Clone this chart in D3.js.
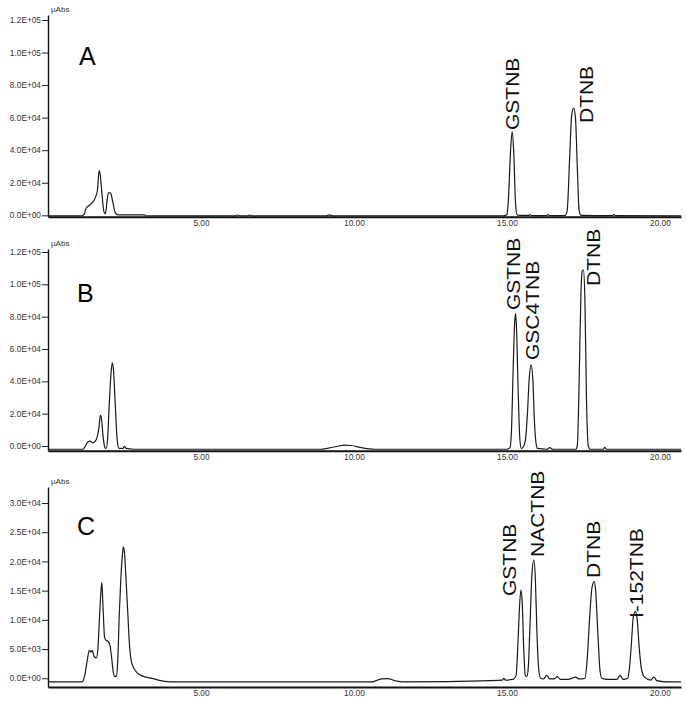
<!DOCTYPE html>
<html><head><meta charset="utf-8">
<script src="https://cdn.jsdelivr.net/npm/d3@7"></script>
<style>body{margin:0;background:#fff}svg{display:block}</style>
</head><body>
<script>
// ---------- DATA ----------
const panelNames = ["A", "B", "C"];
const xTicks = [5, 10, 15, 20];
const xTickLabels = ["5.00", "10.00", "15.00", "20.00"];
const yTicksAB = [0, 20000, 40000, 60000, 80000, 100000, 120000];
const yTickLabelsAB = ["0.0E+00", "2.0E+04", "4.0E+04", "6.0E+04", "8.0E+04", "1.0E+05", "1.2E+05"];
const yTicksC = [0, 5000, 10000, 15000, 20000, 25000, 30000];
const yTickLabelsC = ["0.0E+00", "5.0E+03", "1.0E+04", "1.5E+04", "2.0E+04", "2.5E+04", "3.0E+04"];
const yUnit = "µAbs";

const timesA = [0,1.1,1.18,1.25,1.35,1.45,1.55,1.62,1.67,1.70,1.76,1.83,1.88,1.93,1.98,2.05,2.12,2.2,2.3,3.15,3.2,6.1,6.2,6.3,6.5,6.6,6.7,9.1,9.2,9.3,14.9,15.0,15.05,15.12,15.17,15.22,15.28,15.33,15.4,15.7,15.75,15.8,16.3,16.35,16.4,16.9,16.97,17.05,17.12,17.18,17.24,17.3,17.36,17.42,18.45,18.5,18.55,20.69];
const valuesA = [-400,-400,500,4500,6000,8000,11000,16000,27500,26000,14000,2000,1000,9000,14000,13500,8000,1500,300,300,-400,-400,200,-400,-400,200,-400,-400,300,-400,-400,500,10000,40000,51400,40000,8000,300,-100,-100,400,-200,-200,500,-200,-200,3000,35000,62000,65800,60000,30000,3000,0,-200,500,-200,-400];

const timesB = [0,1.15,1.22,1.3,1.38,1.45,1.52,1.6,1.67,1.71,1.74,1.8,1.86,1.9,1.95,2.0,2.06,2.1,2.14,2.2,2.26,2.32,2.45,2.5,2.55,2.8,8.9,9.2,9.5,9.7,9.9,10.2,10.5,10.7,15.0,15.1,15.15,15.2,15.25,15.28,15.31,15.36,15.42,15.47,15.52,15.6,15.67,15.73,15.79,15.85,15.9,15.95,16.0,16.3,16.4,16.5,17.25,17.3,17.35,17.42,17.46,17.5,17.55,17.6,17.66,17.72,18.15,18.2,18.25,20.69];
const valuesB = [-2000,-2000,0,2500,3000,2000,2500,5000,12000,19000,18000,6000,-1000,-1500,5000,25000,45000,51500,47000,25000,4000,-1500,-1500,0,-1500,-2000,-2000,-1200,0,500,300,-800,-1800,-2000,-2000,-1000,10000,45000,75000,82000,75000,40000,5000,-1500,-1000,3000,20000,42000,50200,40000,15000,2000,-1500,-2000,-1000,-2000,-2000,0,30000,95000,108000,109000,90000,30000,0,-2000,-2000,-800,-2000,-2000];

const timesC = [0,1.12,1.2,1.28,1.35,1.4,1.45,1.5,1.58,1.63,1.67,1.72,1.76,1.8,1.85,1.9,1.97,2.03,2.08,2.13,2.18,2.24,2.28,2.33,2.38,2.43,2.46,2.5,2.55,2.6,2.66,2.72,2.8,2.9,3.0,3.2,3.4,3.6,4.0,10.6,10.9,11.1,11.4,11.6,14.5,14.85,14.9,14.95,15.2,15.3,15.36,15.42,15.46,15.5,15.55,15.6,15.65,15.7,15.76,15.82,15.88,15.93,15.98,16.04,16.1,16.2,16.3,16.4,16.55,16.65,16.75,17.0,17.25,17.35,17.55,17.62,17.7,17.78,17.85,17.9,17.97,18.04,18.1,18.3,18.6,18.7,18.8,18.95,19.0,19.07,19.13,19.2,19.26,19.32,19.4,19.5,19.7,19.8,19.9,20.2,20.69];
const valuesC = [-600,-600,500,3000,4800,4500,4800,3800,3500,5000,9000,14000,16400,12000,7000,6500,6300,5500,3500,1200,300,400,3000,11000,17000,21000,22500,21500,17000,12000,6000,3000,1800,1000,600,200,0,-300,-600,-600,-100,-50,-500,-600,-400,-300,0,-300,-200,500,6000,13000,15100,13000,5000,500,300,2000,10000,18000,20250,17000,8000,1500,0,-100,500,-100,-100,300,-200,-200,200,-100,0,3000,10000,15500,16550,15000,8000,1500,0,-200,-200,500,-200,0,1500,6000,10500,11400,10000,5500,1500,200,-300,200,-400,-600,-600];

const peakNamesA = ["GSTNB", "DTNB"];
const peakLabelTimesA = [15.17, 17.59];
const peakLabelValuesA = [52400, 56700];
const peakNamesB = ["GSTNB", "GSC4TNB", "DTNB"];
const peakLabelTimesB = [15.2, 15.85, 17.82];
const peakLabelValuesB = [84100, 53200, 99000];
const peakNamesC = ["GSTNB", "NACTNB", "DTNB", "I-152TNB"];
const peakLabelTimesC = [15.1, 15.99, 17.82, 19.22];
const peakLabelValuesC = [14090, 20760, 17170, 10320];

// ---------- CHART ----------
const W = 686, H = 704;
const svg = d3.select("body").append("svg").attr("width", W).attr("height", H);

const x = d3.scaleLinear().domain([0, 20.69]).range([48, 681]);

const panels = [
  { name: panelNames[0], times: timesA, values: valuesA, ticks: yTicksAB, tickLabels: yTickLabelsAB,
    y: d3.scaleLinear().domain([-920, 123070]).range([216.8, 15]),
    names: peakNamesA, lt: peakLabelTimesA, lv: peakLabelValuesA, letter: [79, 65] },
  { name: panelNames[1], times: timesB, values: valuesB, ticks: yTicksAB, tickLabels: yTickLabelsAB,
    y: d3.scaleLinear().domain([-2900, 121850]).range([450.7, 249]),
    names: peakNamesB, lt: peakLabelTimesB, lv: peakLabelValuesB, letter: [77, 302] },
  { name: panelNames[2], times: timesC, values: valuesC, ticks: yTicksC, tickLabels: yTickLabelsC,
    y: d3.scaleLinear().domain([-1490, 32740]).range([687, 487]),
    names: peakNamesC, lt: peakLabelTimesC, lv: peakLabelValuesC, letter: [77, 535] }
];

const small = "'Liberation Sans', Arial, sans-serif";

panels.forEach(p => {
  const g = svg.append("g");
  const y = p.y;
  const [y0, y1] = y.range();

  // Y axis
  const yAxis = d3.axisLeft(y).tickValues(p.ticks)
    .tickFormat((d, i) => p.tickLabels[i]).tickSize(6).tickSizeOuter(0).tickPadding(1);
  const ya = g.append("g").attr("transform", `translate(${x.range()[0]},0)`).call(yAxis);
  ya.select(".domain").attr("stroke", "#111").attr("stroke-width", 1.4);
  ya.selectAll(".tick line").attr("stroke", "#222").attr("stroke-width", 1);
  ya.selectAll(".tick text").attr("font-family", small).attr("font-size", 8.3).attr("fill", "#333");

  // X axis
  const xAxis = d3.axisBottom(x).tickValues(xTicks)
    .tickFormat((d, i) => xTickLabels[i]).tickSize(0).tickSizeOuter(0).tickPadding(3);
  const xa = g.append("g").attr("transform", `translate(0,${y0})`).call(xAxis);
  xa.select(".domain").attr("stroke", "#111").attr("stroke-width", 2);
  xa.selectAll(".tick text").attr("font-family", small).attr("font-size", 8.3).attr("fill", "#333");

  // unit
  g.append("text").attr("x", x.range()[0] + 3).attr("y", y1 - 3)
    .attr("font-family", small).attr("font-size", 8).attr("fill", "#333").text(yUnit);

  // trace
  const pts = p.times.map((t, i) => [t, p.values[i]]);
  const line = d3.line().x(d => x(d[0])).y(d => y(d[1])).curve(d3.curveMonotoneX);
  g.append("path").datum(pts).attr("d", line)
    .attr("fill", "none").attr("stroke", "#1a1a1a").attr("stroke-width", 1.2)
    .attr("stroke-linejoin", "round");

  // panel letter
  g.append("text").attr("x", p.letter[0]).attr("y", p.letter[1])
    .attr("font-family", "'Liberation Sans', Arial, sans-serif").attr("font-size", 25)
    .attr("fill", "#000").text(p.name);

  // peak labels
  p.names.forEach((nm, i) => {
    const cx = x(p.lt[i]) + 6.5, by = y(p.lv[i]);
    g.append("text")
      .attr("transform", `translate(${cx},${by}) rotate(-90) scale(1,0.87)`)
      .attr("font-family", "'Liberation Sans', Arial, sans-serif").attr("font-size", 21)
      .attr("fill", "#111").text(nm);
  });
});
</script>
</body></html>
